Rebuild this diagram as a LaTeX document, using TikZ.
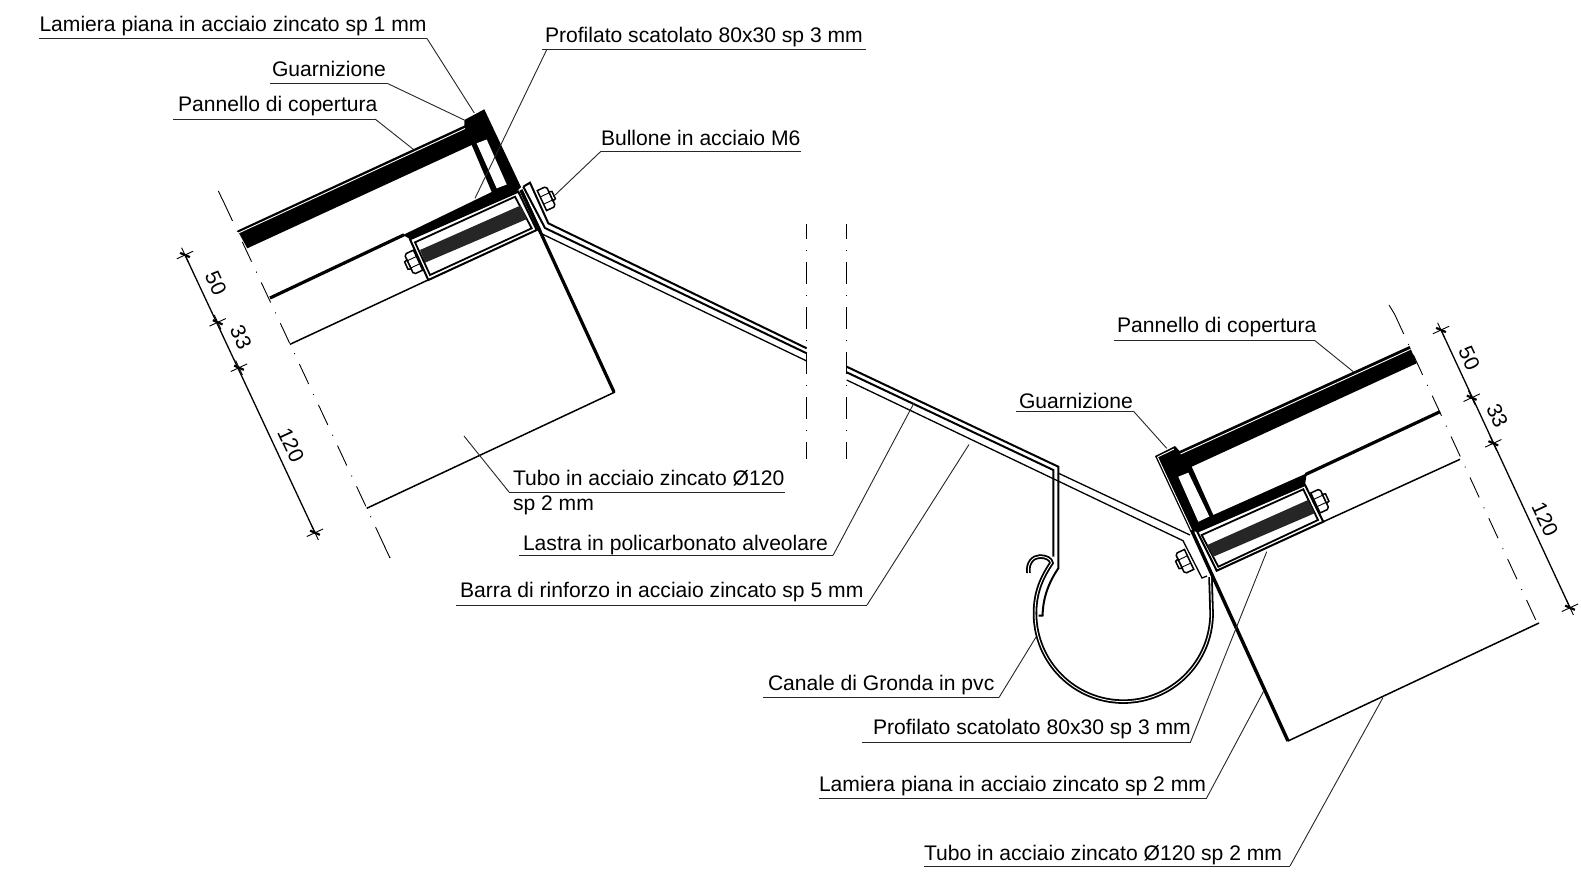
\documentclass[tikz,border=0pt]{standalone}
\usepackage{fontspec}
\setmainfont{Liberation Sans}
\tikzset{
  ln/.style={line width=1.5pt,line join=miter},
  thin1/.style={line width=0.9pt},
  heavy/.style={line width=3.2pt},
  mid1/.style={line width=2pt},
  ldr/.style={line width=0.9pt,black!85},
  lbl/.style={anchor=base west,inner sep=0pt,outer sep=0pt,font=\fontsize{21.1}{25}\selectfont},
  dimtxt/.style={inner sep=0pt,font=\fontsize{21.1}{25}\selectfont,rotate=-65},
  axisln/.style={line width=0.9pt,dash pattern=on 22pt off 11pt on 1pt off 11pt},
  gutter/.style={line width=1.8pt,double=white,double distance=0.9pt},
  whiteln/.style={white,line width=0.9pt},
}
\newcommand\callout[9][0]{% baseline shift, name, text x, underline from, to, y, kink x, end, text
  \node[lbl] (#2) at (#3,#6-7.5+#1) {#9};
  \coordinate (#2e) at (#8);
  \draw[ldr] (#4,#6) -- (#5,#6);
  \draw[ldr] (#7,#6) -- (#2e);
}
\newcommand\nut[3]{% centre, side (+1/-1)
  \begin{scope}[shift={(#1,#2)},rotate=25,xscale=#3]
    \draw[ln,fill=white] (1,-11) -- (9,-11) -- (11,-9) -- (11,9) -- (9,11) -- (1,11) -- cycle;
    \draw[thin1] (1,-4) -- (11,-4) (1,4) -- (11,4);
    \draw[ln,fill=white] (11,-5) -- (14,-4) -- (14,4) -- (11,5) -- cycle;
  \end{scope}
}
\newcommand\dimtick[2]{%
  \begin{scope}[shift={(#1,#2)},rotate=25]
    \draw[thin1] (-9,0) -- (9,0) (0,-8) -- (0,8);
    \draw[line width=2.2pt] (-3.5,-4) -- (3.5,4);
  \end{scope}
}
\begin{document}
\begin{tikzpicture}[x=1pt,y=-1pt]
\useasboundingbox[fill=white] (0,0) rectangle (1581,879);

%% ---------- LEFT DETAIL ----------
\draw[axisln] (223.2,201) -- (390,558);
\draw[thin1] (218.3,191) -- (223.2,201);
\draw[thin1] (384.8,547) -- (390,558);
% panel, cap, lower band
\fill (237.5,230.5) -- (464.5,125.5) -- (464.3,120) -- (484.3,109.3) -- (521,187) -- (516.7,191.7)
  -- (411.7,240) -- (403,235) -- (491.7,192) -- (471.7,145) -- (247.3,248.3) -- cycle;
\fill[white] (476.7,143.3) -- (486.7,139.5) -- (506.7,184.5) -- (496.7,188.3) -- cycle;
\draw[whiteln] (238.5,233) -- (465,128.5);
\draw[heavy] (270,298) -- (404,234.8);
% tube
\draw[line width=1.5pt] (428,280) -- (290,344.3);
\draw[line width=1.5pt] (366.7,508.3) -- (615,392);
\draw[heavy] (521,190) -- (614,392);
% rectangular profile
\draw[line width=2pt,fill=white] (410,239.3) -- (518.3,191.7) -- (536.7,230) -- (428.3,280) -- cycle;
\draw[line width=1.8pt] (415,242.3) -- (515,196.7) -- (531.7,228.3) -- (430,275) -- cycle;
\fill[black!85] (420,250) -- (520.5,205.5) -- (527,219) -- (425,262.7) -- cycle;
\draw[heavy] (521,190) -- (540,231);
% bolt plate
\draw[mid1,fill=white] (523.3,186.7) -- (530,182.7) -- (548.3,223.3) -- (806.7,348.3);
\draw[mid1] (523.3,186.7) -- (545,228) -- (806.7,353.3);
\draw[line width=1.3pt] (539,232.5) -- (806.7,361);
\nut{419}{259.7}{-1}
\nut{541}{201}{1}

%% ---------- BREAK LINES ----------
\draw[axisln,dash phase=7pt] (806.7,224) -- (806.7,459);
\draw[axisln,dash phase=7pt] (846.7,224) -- (846.7,459);

%% ---------- RAIN GUTTER ----------
\draw[gutter] (1028.5,573) .. controls (1027,563) and (1033,556.5) .. (1040,556.5)
  .. controls (1046,556.5) and (1051,559) .. (1051.5,563)
  .. controls (1042,577) and (1035,592) .. (1035,613.3)
  .. controls (1035,662.1) and (1074.5,701.6) .. (1123.3,701.6)
  .. controls (1172.1,701.6) and (1211.6,662.1) .. (1211.6,613.3) -- (1210.5,577);
\draw[mid1] (846.7,366.7) -- (1058.3,466.7) -- (1058.3,568.3)
  .. controls (1047,585) and (1043,600) .. (1042.5,615.5) -- (1038.5,615.5);
\draw[mid1] (846.7,372.3) -- (1053.3,470) -- (1053.3,556.7);
\draw[line width=1.3pt] (846.7,380) -- (1183,540.7) -- (1202,578) -- (1207,576);
\draw[line width=1.3pt] (1058,473) -- (1190,535);

%% ---------- RIGHT DETAIL ----------
\draw[axisln] (1394.5,314) -- (1539,627);
\draw[thin1] (1389,305) -- (1394.5,314);
\fill (1155,456) -- (1175,446) -- (1179.5,451) -- (1409.5,346) -- (1416.7,363.3) -- (1191.7,466.7)
  -- (1213.3,515) -- (1306.7,473.3) -- (1305,485) -- (1197.3,531.7) -- (1190.4,531.7) -- cycle;
\fill[white] (1178.3,476.7) -- (1188.3,472.7) -- (1209.3,516.5) -- (1198.3,521.7) -- cycle;
\draw[whiteln] (1180.5,454) -- (1410.5,349.3);
\draw[whiteln] (1157.5,457) -- (1174,449);
\draw[whiteln] (1157.5,457) -- (1199,546);
\draw[heavy] (1305.5,474.5) -- (1440,411.7);
\draw[line width=1.5pt] (1323.3,521.7) -- (1460,459.3);
\draw[line width=1.5pt] (1539,623) -- (1288,741);
\draw[line width=3.4pt] (1191.5,530) -- (1288,741);
\draw[line width=2pt,fill=white] (1197.3,531.7) -- (1305,485) -- (1323.3,521.7) -- (1216.7,570.7) -- cycle;
\draw[line width=1.8pt] (1201.7,535) -- (1303.3,489.3) -- (1318,520) -- (1218.3,566.7) -- cycle;
\fill[black!85] (1207.3,545) -- (1308,500) -- (1314.5,513.3) -- (1213.3,556.7) -- cycle;
\nut{1314.5}{503.4}{1}
\nut{1190}{559}{-1}

%% ---------- DIMENSIONS ----------
\coordinate (da1) at (185,255);
\coordinate (da4) at (315,532.7);
\draw[line width=1.3pt] (da1) -- (da4);
\dimtick{185}{255}\dimtick{217.7}{322.3}\dimtick{239}{367.7}\dimtick{315}{532.7}
\node[dimtxt] (d50a) at (216,283) {50};
\node[dimtxt] (d33a) at (241,337) {33};
\node[dimtxt] (d120a) at (291,445) {120};
\coordinate (db1) at (1441,330);
\coordinate (db4) at (1570,607.7);
\draw[line width=1.3pt] (db1) -- (db4);
\dimtick{1441}{330}\dimtick{1471.7}{397.7}\dimtick{1493.3}{443.3}\dimtick{1570}{607.7}
\node[dimtxt] (d50b) at (1469.3,358.3) {50};
\node[dimtxt] (d33b) at (1497.3,415.7) {33};
\node[dimtxt] (d120b) at (1545,519.3) {120};

%% ---------- CALLOUTS ----------
\callout{a}{39.5}{39}{427}{38.5}{427}{474.3,113}{Lamiera piana in acciaio zincato sp 1 mm}
\callout{b}{545}{542}{866}{49.5}{546.8}{475,198.3}{Profilato scatolato 80x30 sp 3 mm}
\callout{c}{272}{270}{388}{83.7}{388}{464.3,120}{Guarnizione}
\callout{d}{178}{173.3}{375}{119}{375}{413.3,149.3}{Pannello di copertura}
\callout[2]{e}{601}{601}{801}{151.2}{601}{553.3,196.7}{Bullone in acciaio M6}
\callout[1]{f}{513}{509}{785}{492}{509}{464,436}{Tubo in acciaio zincato Ø120}
\node[lbl] (f2) at (513,510) {sp 2 mm};
\callout[3]{g}{523}{519}{833}{555.4}{833}{914,403}{Lastra in policarbonato alveolare}
\callout{h}{460}{456}{867}{605}{867}{969,444.5}{Barra di rinforzo in acciaio zincato sp 5 mm}
\callout{i}{768}{763}{999}{697.5}{999}{1036,637}{Canale di Gronda in pvc}
\callout{j}{873}{862}{1190.5}{742}{1190.5}{1266.7,551.7}{Profilato scatolato 80x30 sp 3 mm}
\callout[1]{k}{819}{818.5}{1206.6}{798}{1206.6}{1264,690.5}{Lamiera piana in acciaio zincato sp 2 mm}
\callout[2]{l}{924}{924}{1290}{866}{1290}{1383,697.5}{Tubo in acciaio zincato Ø120 sp 2 mm}
\callout[-1]{m}{1117}{1114}{1315}{340.7}{1315}{1353.3,371.7}{Pannello di copertura}
\callout[5]{n}{1019}{1016}{1133.3}{411}{1133.3}{1166.7,448.3}{Guarnizione}
\end{tikzpicture}
\end{document}
